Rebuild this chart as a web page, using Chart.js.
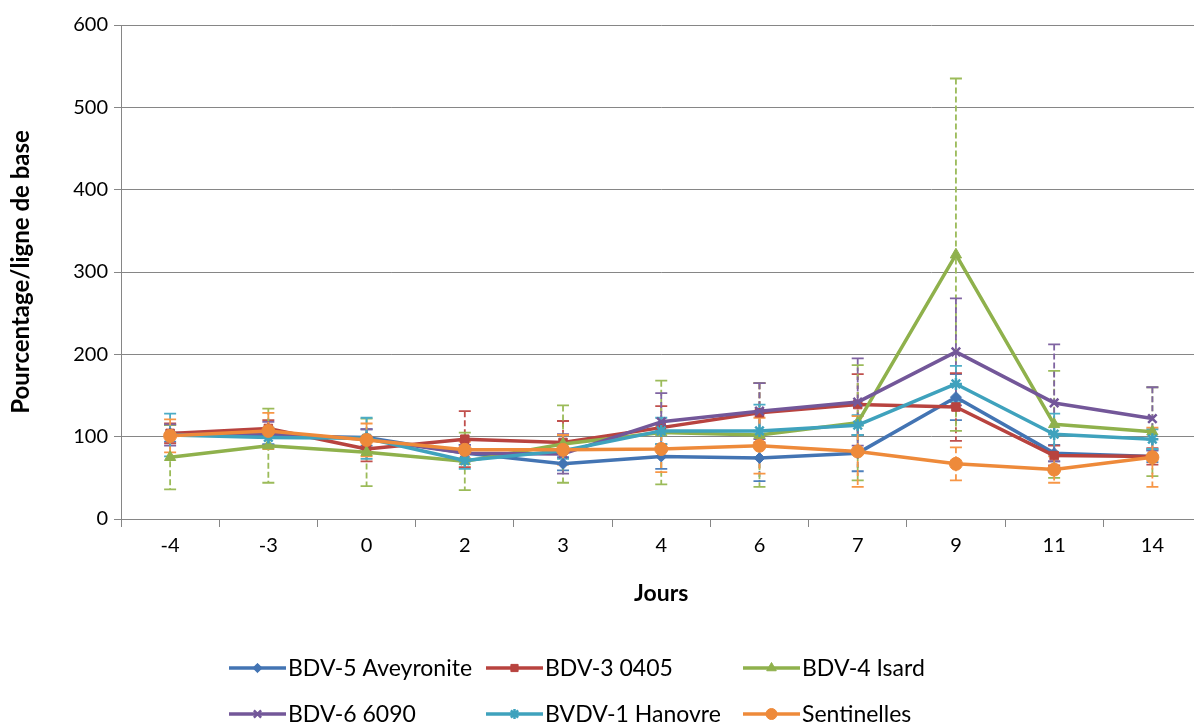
<!DOCTYPE html>
<html>
<head>
<meta charset="utf-8">
<script src="https://cdn.jsdelivr.net/npm/chart.js@4/dist/chart.umd.min.js"></script>
<style>
    html, body { margin: 0; padding: 0; background: #fff; overflow: hidden; }
    #chartBox { width: 1210px; height: 724px; }
</style>
</head>
<body>
<div id="chartBox"><canvas id="joursChart" width="1210" height="724"></canvas></div>
<script>
// categories (jours)
const jours = ['-4', '-3', '0', '2', '3', '4', '6', '7', '9', '11', '14'];

// series values, % of baseline, and their error bars (+/-)
const aveyronite = [104, 101, 99, 80, 67, 76, 74, 80, 148, 80, 76];
const aveyroniteErr = [10, 10, 10, 10, 8, 15, 28, 22, 28, 10, 7];
const bdv3 = [104, 110, 85, 97, 93, 111, 129, 139, 136, 77, 76];
const bdv3Err = [12, 10, 15, 34, 26, 26, 36, 37, 41, 12, 10];
const isard = [75, 89, 81, 70, 91, 105, 102, 117, 321, 115, 106];
const isardErr = [39, 45, 41, 35, 47, 63, 63, 70, 214, 65, 54];
const bdv6 = [102, 104, 97, 80, 79, 118, 131, 142, 203, 141, 122];
const bdv6Err = [13, 14, 12, 10, 24, 35, 34, 53, 65, 71, 38];
const hanovre = [102, 99, 98, 71, 83, 107, 107, 114, 164, 103, 97];
const hanovreErr = [26, 10, 25, 10, 10, 16, 32, 12, 22, 25, 12];
const sentinelles = [101, 107, 96, 84, 84, 85, 89, 82, 67, 60, 75];
const sentinellesErr = [20, 22, 20, 10, 18, 28, 34, 43, 20, 16, 36];

const seriesNames = ['BDV-5 Aveyronite', 'BDV-3 0405', 'BDV-4 Isard', 'BDV-6 6090', 'BVDV-1 Hanovre', 'Sentinelles'];
const yTicks = [0, 100, 200, 300, 400, 500, 600];

const FONT = 'Lato, "Open Sans", sans-serif';

function makeSet(i, values, errors, color, errColor, style, radius) {
    return {
        label: seriesNames[i],
        data: values,
        errors: errors,
        errColor: errColor,
        borderColor: color,
        backgroundColor: color,
        borderWidth: 3.5,
        pointStyle: style,
        pointRadius: radius,
        pointBorderWidth: style === 'crossRot' || style === 'star' ? 2.5 : 1,
        tension: 0,
        borderJoinStyle: 'round',
        order: 6 - i
    };
}

const datasets = [
    makeSet(0, aveyronite, aveyroniteErr, '#4374B3', '#4F81BD', 'rectRot', 5.5),
    makeSet(1, bdv3, bdv3Err, '#B8433F', '#C0504D', 'rect', 6),
    makeSet(2, isard, isardErr, '#8FB14C', '#9BBB59', 'triangle', 6.5),
    makeSet(3, bdv6, bdv6Err, '#735799', '#8064A2', 'crossRot', 6),
    makeSet(4, hanovre, hanovreErr, '#3FA2BD', '#4BACC6', 'star', 6),
    makeSet(5, sentinelles, sentinellesErr, '#EE8A3A', '#F79646', 'circle', 6.5)
];

// dashed error bars with caps, drawn under the lines
const errorBars = {
    id: 'errorBars',
    beforeDatasetsDraw(chart) {
        const ctx = chart.ctx;
        const yScale = chart.scales.y;
        chart.data.datasets.forEach(function(ds, i) {
            const meta = chart.getDatasetMeta(i);
            ctx.save();
            ctx.strokeStyle = ds.errColor;
            ctx.lineWidth = 1.8;
            meta.data.forEach(function(pt, j) {
                const v = ds.data[j];
                const e = ds.errors[j];
                const top = yScale.getPixelForValue(v + e);
                const bot = yScale.getPixelForValue(Math.max(0, v - e));
                ctx.setLineDash([6, 3]);
                ctx.beginPath();
                ctx.moveTo(pt.x, top);
                ctx.lineTo(pt.x, bot);
                ctx.stroke();
                ctx.setLineDash([]);
                ctx.beginPath();
                ctx.moveTo(pt.x - 6, top);
                ctx.lineTo(pt.x + 6, top);
                ctx.moveTo(pt.x - 6, bot);
                ctx.lineTo(pt.x + 6, bot);
                ctx.stroke();
            });
            ctx.restore();
        });
    }
};

// excel-like legend: 3 columns, 2 rows
const legendCols = [229, 486, 743];
const legendRows = [668, 714];

const excelLegend = {
    id: 'excelLegend',
    afterDraw(chart) {
        const ctx = chart.ctx;
        chart.data.datasets.forEach(function(ds, i) {
            const x = legendCols[i % 3];
            const y = legendRows[Math.floor(i / 3)];
            ctx.save();
            ctx.strokeStyle = ds.borderColor;
            ctx.lineWidth = 3.5;
            ctx.beginPath();
            ctx.moveTo(x, y);
            ctx.lineTo(x + 57, y);
            ctx.stroke();
            if (Chart.helpers && Chart.helpers.drawPoint) {
                ctx.fillStyle = ds.backgroundColor;
                ctx.lineWidth = ds.pointBorderWidth;
                Chart.helpers.drawPoint(ctx, {
                    pointStyle: ds.pointStyle,
                    radius: ds.pointRadius * 0.85,
                    rotation: 0,
                    borderWidth: ds.pointBorderWidth
                }, x + 28.5, y);
            }
            ctx.fillStyle = '#000';
            ctx.font = '23px ' + FONT;
            ctx.textBaseline = 'middle';
            ctx.textAlign = 'left';
            ctx.fillText(ds.label, x + 59, y + 1);
            ctx.restore();
        });
    }
};

new Chart(document.getElementById('joursChart'), {
    type: 'line',
    data: {
        labels: jours,
        datasets: datasets
    },
    plugins: [errorBars, excelLegend],
    options: {
        responsive: false,
        animation: false,
        devicePixelRatio: 1,
        layout: { padding: { left: 0, right: 8, top: 25, bottom: 117 } },
        plugins: {
            legend: { display: false },
            tooltip: { enabled: false }
        },
        scales: {
            x: {
                offset: true,
                grid: {
                    offset: true,
                    drawOnChartArea: false,
                    color: '#868686',
                    tickLength: 8
                },
                border: { color: '#868686', width: 1 },
                ticks: { color: '#000', font: { family: FONT, size: 20 }, padding: 7, maxRotation: 0 },
                title: {
                    display: true,
                    text: 'Jours',
                    color: '#000',
                    font: { family: FONT, size: 23, weight: 'bold' },
                    padding: { top: 0, bottom: 0 }
                },
                afterFit: function(s) { s.height = 88; }
            },
            y: {
                min: 0,
                max: 600,
                afterBuildTicks: function(s) { s.ticks = yTicks.map(function(v) { return { value: v }; }); },
                grid: { color: '#868686', tickLength: 7 },
                border: { color: '#868686', width: 1 },
                ticks: { color: '#000', font: { family: FONT, size: 20 }, padding: 6 },
                title: {
                    display: true,
                    text: 'Pourcentage/ligne de base',
                    color: '#000',
                    font: { family: FONT, size: 24, weight: 'bold' },
                    padding: { top: 7, bottom: 0 }
                },
                afterFit: function(s) { s.width = 121; }
            }
        }
    }
});
</script>
</body>
</html>
